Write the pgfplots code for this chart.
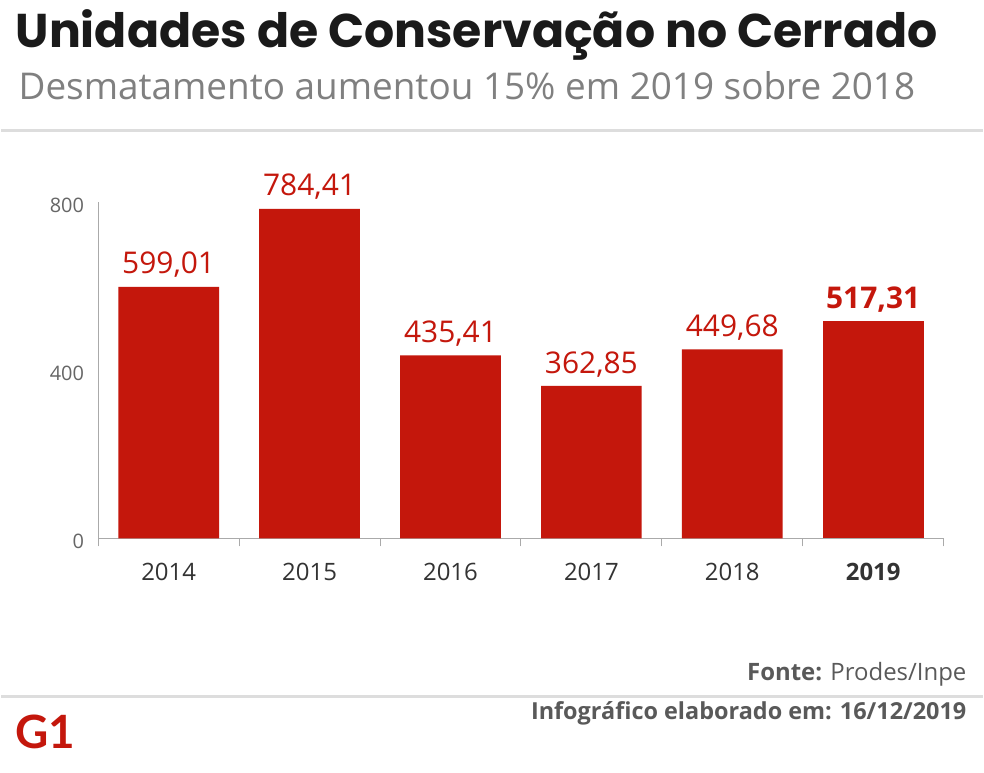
\documentclass[border=0pt]{standalone}
\usepackage{pgfplots}
\pgfplotsset{compat=1.18}
\usepackage{fontspec}
\setmainfont{Open Sans}
\newfontfamily\titlefont{Poppins}
\newfontfamily\logofont{Lato}
\definecolor{g1red}{HTML}{C4170C}
\definecolor{axisgray}{HTML}{AAAAAA}
\definecolor{tickgray}{HTML}{666666}
\definecolor{xlabc}{HTML}{333333}
\definecolor{titlec}{HTML}{1A1A1A}
\definecolor{subc}{HTML}{808080}
\definecolor{sepc}{HTML}{DDDDDD}
\definecolor{footc}{HTML}{595959}
\begin{document}
\begin{tikzpicture}[x=1pt,y=1pt]
\fill[white] (0,0) rectangle (984,775);
\node[anchor=base west, inner sep=0, text=titlec, font=\titlefont\bfseries\fontsize{47.5}{52}\selectfont] at (14,727) {Unidades de Conservação no Cerrado};
\node[anchor=base west, inner sep=0, text=subc, font=\fontsize{37}{42}\selectfont] at (17,675) {Desmatamento aumentou 15\% em 2019 sobre 2018};
\draw[sepc, line width=3pt] (0,644) -- (984,644);
\begin{axis}[
  at={(97pt,235pt)}, anchor=south west,
  scale only axis, width=848pt, height=337pt,
  xmin=-0.5, xmax=5.5, ymin=0, ymax=800,
  axis x line=bottom, axis y line=left,
  axis line style={-, draw=axisgray, line width=1.2pt},
  xtick={0,...,5},
  xticklabels={2014,2015,2016,2017,2018,\textbf{2019}},
  minor xtick={-0.5,0.5,1.5,2.5,3.5,4.5,5.5},
  major tick length=0pt, minor tick length=8pt, tick align=inside,
  minor tick style={draw=axisgray, line width=1pt},
  ytick={0,400,800},
  /pgf/number format/assume math mode=true,
  yticklabel style={font=\fontsize{20}{24}\selectfont, text=tickgray, inner sep=0pt, xshift=-14pt, yshift=-3pt},
  xticklabel style={font=\fontsize{24}{28}\selectfont, text=xlabc, anchor=base, inner sep=0pt, yshift=-42pt},
  ybar, bar width=101pt, bar shift=0pt,
  clip=false,
]
\addplot[fill=g1red, draw=none,
  nodes near coords={\pgfmathprintnumber[fixed,fixed zerofill,precision=2,use comma]{\pgfplotspointmeta}},
  every node near coord/.append style={anchor=base, yshift=13pt, inner sep=0pt, text=g1red, font=\fontsize{30}{34}\selectfont}]
  coordinates {(0,599.01) (1,784.41) (2,435.41) (3,362.85) (4,449.68)};
\addplot[fill=g1red, draw=none,
  nodes near coords={\pgfmathprintnumber[fixed,fixed zerofill,precision=2,use comma]{\pgfplotspointmeta}},
  every node near coord/.append style={anchor=base, yshift=13pt, inner sep=0pt, text=g1red, font=\bfseries\fontsize{30}{34}\selectfont}]
  coordinates {(5,517.31)};
\end{axis}
\node[anchor=base east, inner sep=0, text=footc, font=\fontsize{24}{28}\selectfont] at (968,92) {\textbf{Fonte:} Prodes/Inpe};
\draw[sepc, line width=3pt] (0,76) -- (984,76);
\node[anchor=base east, inner sep=0, text=footc, font=\bfseries\fontsize{23.5}{28}\selectfont] at (968,53) {Infográfico elaborado em: 16/12/2019};
\node[anchor=base west, inner sep=0, text=g1red, font=\logofont\bfseries\fontsize{46}{50}\selectfont] at (14,24) {G1};
\end{tikzpicture}
\end{document}
